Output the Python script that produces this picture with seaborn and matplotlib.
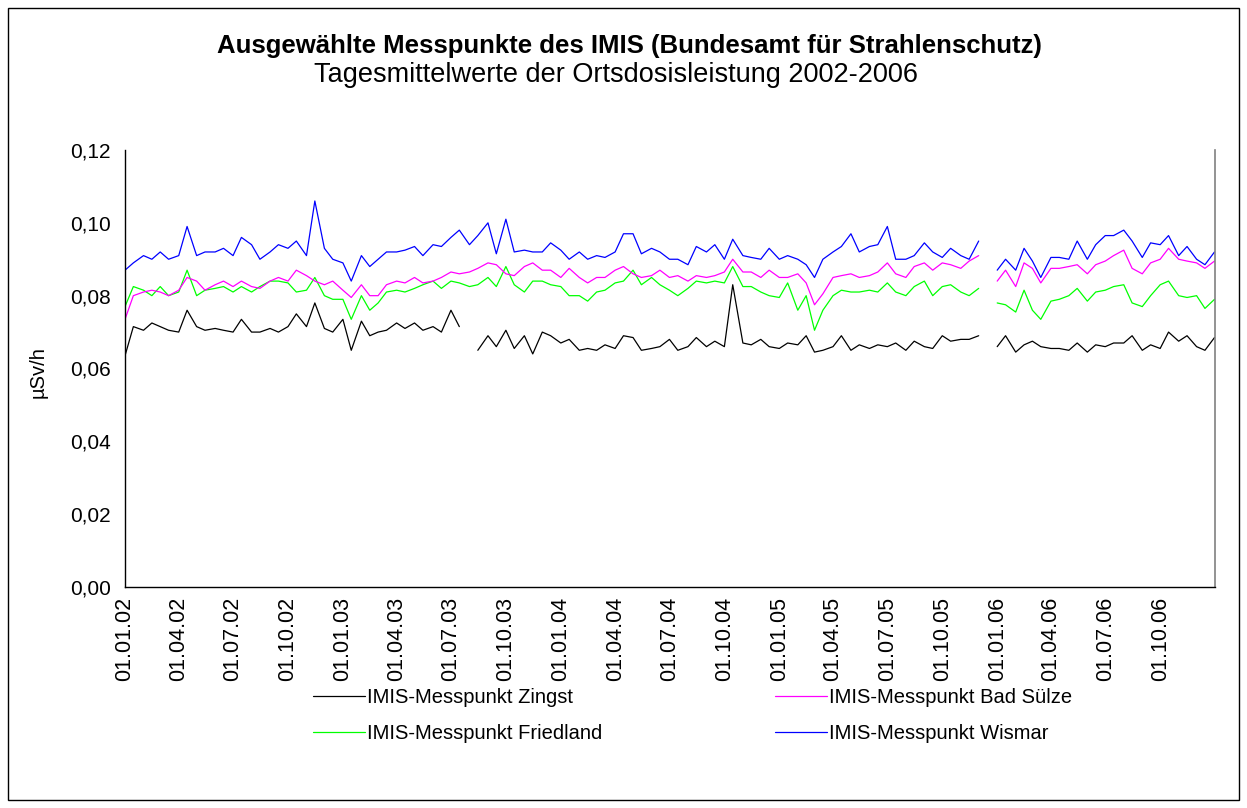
import numpy as np
import pandas as pd
import matplotlib
matplotlib.use("Agg")
import matplotlib.pyplot as plt
import matplotlib.dates as mdates
from matplotlib.patches import Rectangle
from matplotlib.ticker import MultipleLocator, FuncFormatter
import seaborn as sns

# Stichtage: 1. und 15. jedes Monats, plus Jahresende 2006
datum = list(pd.date_range("2002-01-01", "2006-12-15", freq="SMS")) + [pd.Timestamp("2006-12-31")]

nan = np.nan

zingst = [
    0.0635, 0.0715, 0.0705, 0.0725, 0.0715, 0.0705, 0.070, 0.076, 0.0715, 0.0705, 0.071, 0.0705,
    0.070, 0.0735, 0.070, 0.070, 0.071, 0.070, 0.0715, 0.075, 0.0715, 0.078, 0.071, 0.070,
    0.0735, 0.065, 0.073, 0.069, 0.070, 0.0705, 0.0725, 0.071, 0.0725, 0.0705, 0.0715, 0.070,
    0.076, 0.0715, nan, 0.065, 0.069, 0.066, 0.0705, 0.0655, 0.069, 0.064, 0.070, 0.069,
    0.067, 0.068, 0.065, 0.0655, 0.065, 0.0665, 0.0655, 0.069, 0.0685, 0.065, 0.0655, 0.066,
    0.068, 0.065, 0.066, 0.0685, 0.066, 0.0675, 0.066, 0.083, 0.067, 0.0665, 0.068, 0.066,
    0.0655, 0.067, 0.0665, 0.069, 0.0645, 0.065, 0.066, 0.069, 0.065, 0.0665, 0.0655, 0.0665,
    0.066, 0.067, 0.065, 0.0675, 0.066, 0.0655, 0.069, 0.0675, 0.068, 0.068, 0.069, nan,
    0.066, 0.069, 0.0645, 0.0665, 0.0675, 0.066, 0.0655, 0.0655, 0.065, 0.067, 0.0645, 0.0665,
    0.066, 0.067, 0.067, 0.069, 0.065, 0.0665, 0.0655, 0.070, 0.0675, 0.069, 0.066, 0.065,
    0.0685,
]

bad_suelze = [
    0.0735, 0.080, 0.081, 0.0815, 0.081, 0.080, 0.0815, 0.085, 0.084, 0.0815, 0.083, 0.084,
    0.0825, 0.084, 0.0825, 0.082, 0.084, 0.085, 0.084, 0.087, 0.0855, 0.084, 0.083, 0.084,
    0.0815, 0.0795, 0.083, 0.080, 0.080, 0.083, 0.084, 0.0835, 0.085, 0.0835, 0.084, 0.085,
    0.0865, 0.086, 0.0865, 0.0875, 0.089, 0.0885, 0.086, 0.0855, 0.088, 0.089, 0.087, 0.087,
    0.085, 0.0875, 0.085, 0.0835, 0.085, 0.085, 0.087, 0.088, 0.086, 0.085, 0.0855, 0.087,
    0.085, 0.0855, 0.084, 0.0855, 0.085, 0.0855, 0.0865, 0.090, 0.0865, 0.0865, 0.085, 0.087,
    0.085, 0.085, 0.086, 0.0835, 0.0775, 0.0805, 0.085, 0.0855, 0.086, 0.085, 0.0855, 0.0865,
    0.089, 0.086, 0.085, 0.088, 0.089, 0.087, 0.089, 0.0885, 0.0875, 0.0895, 0.091, nan,
    0.084, 0.087, 0.0825, 0.089, 0.0875, 0.0835, 0.0875, 0.0875, 0.088, 0.0885, 0.086, 0.0885,
    0.0895, 0.091, 0.0925, 0.0875, 0.086, 0.089, 0.090, 0.093, 0.090, 0.0895, 0.089, 0.0875,
    0.0895,
]

friedland = [
    0.077, 0.0825, 0.0815, 0.080, 0.0825, 0.080, 0.081, 0.087, 0.080, 0.0815, 0.082, 0.0825,
    0.081, 0.0825, 0.081, 0.0825, 0.084, 0.084, 0.0835, 0.081, 0.0815, 0.085, 0.080, 0.079,
    0.079, 0.0735, 0.080, 0.076, 0.078, 0.081, 0.0815, 0.081, 0.082, 0.083, 0.084, 0.082,
    0.084, 0.0835, 0.0825, 0.083, 0.085, 0.0825, 0.088, 0.083, 0.081, 0.084, 0.084, 0.083,
    0.0825, 0.080, 0.080, 0.0785, 0.081, 0.0815, 0.0835, 0.084, 0.087, 0.083, 0.085, 0.083,
    0.0815, 0.080, 0.082, 0.084, 0.0835, 0.084, 0.0835, 0.088, 0.0825, 0.0825, 0.081, 0.080,
    0.0795, 0.0835, 0.076, 0.080, 0.0705, 0.076, 0.080, 0.0815, 0.081, 0.081, 0.0815, 0.081,
    0.0835, 0.081, 0.080, 0.0825, 0.084, 0.080, 0.0825, 0.083, 0.081, 0.080, 0.082, nan,
    0.078, 0.0775, 0.0755, 0.0815, 0.076, 0.0735, 0.0785, 0.079, 0.080, 0.082, 0.0785, 0.081,
    0.0815, 0.0825, 0.083, 0.078, 0.077, 0.080, 0.083, 0.084, 0.080, 0.0795, 0.080, 0.0765,
    0.079,
]

wismar = [
    0.087, 0.089, 0.091, 0.090, 0.092, 0.090, 0.091, 0.099, 0.091, 0.092, 0.092, 0.093,
    0.091, 0.096, 0.094, 0.090, 0.092, 0.094, 0.093, 0.095, 0.091, 0.106, 0.093, 0.090,
    0.089, 0.084, 0.091, 0.088, 0.090, 0.092, 0.092, 0.0925, 0.0935, 0.091, 0.094, 0.0935,
    0.096, 0.098, 0.094, 0.0965, 0.100, 0.0915, 0.101, 0.092, 0.0925, 0.092, 0.092, 0.0945,
    0.0925, 0.090, 0.092, 0.090, 0.091, 0.0905, 0.092, 0.097, 0.097, 0.0915, 0.093, 0.092,
    0.090, 0.090, 0.0885, 0.0935, 0.092, 0.094, 0.090, 0.0955, 0.091, 0.0905, 0.090, 0.093,
    0.090, 0.091, 0.090, 0.0885, 0.085, 0.090, 0.092, 0.0935, 0.097, 0.092, 0.0935, 0.094,
    0.099, 0.090, 0.090, 0.091, 0.0945, 0.092, 0.0905, 0.093, 0.091, 0.090, 0.095, nan,
    0.087, 0.090, 0.087, 0.093, 0.0895, 0.085, 0.0905, 0.0905, 0.090, 0.095, 0.090, 0.094,
    0.0965, 0.0965, 0.098, 0.095, 0.0905, 0.0945, 0.094, 0.0965, 0.091, 0.0935, 0.090, 0.0885,
    0.092,
]

namen = ["IMIS-Messpunkt Zingst", "IMIS-Messpunkt Friedland",
         "IMIS-Messpunkt Bad Sülze", "IMIS-Messpunkt Wismar"]
farben = ["#000000", "#00FF00", "#FF00FF", "#0000FF"]

df = pd.concat([
    pd.DataFrame({"Datum": datum, "Wert": werte, "Messpunkt": name})
    for name, werte in zip(namen, [zingst, friedland, bad_suelze, wismar])
])
# Lücken in den Messreihen als eigene Abschnitte zeichnen
df["Abschnitt"] = df.groupby("Messpunkt")["Wert"].transform(lambda s: s.isna().cumsum())
df = df.dropna()

sns.set_style("white")
plt.rcParams["font.family"] = ["Liberation Sans", "DejaVu Sans"]
plt.rcParams["text.color"] = "black"
plt.rcParams["xtick.color"] = "black"
plt.rcParams["ytick.color"] = "black"

fig = plt.figure(figsize=(12.47, 8.08), dpi=100)
ax = fig.add_axes([125 / 1247, 1 - 587 / 808, 1090 / 1247, 437 / 808])

sns.lineplot(data=df, x="Datum", y="Wert", hue="Messpunkt", hue_order=namen,
             units="Abschnitt", estimator=None, palette=farben, lw=0.9, ax=ax)

ax.set_xlim(pd.Timestamp("2002-01-01"), pd.Timestamp("2006-12-31 20:00"))
ax.set_ylim(0, 0.12)
ax.xaxis.set_major_locator(mdates.MonthLocator(bymonth=[1, 4, 7, 10]))
ax.xaxis.set_minor_locator(mdates.MonthLocator())
ax.xaxis.set_major_formatter(mdates.DateFormatter("%d.%m.%y"))
ax.yaxis.set_major_locator(MultipleLocator(0.02))
ax.yaxis.set_minor_locator(MultipleLocator(0.01))
ax.yaxis.set_major_formatter(FuncFormatter(lambda v, p: f"{v:.2f}".replace(".", ",")))
ax.tick_params(axis="x", which="major", direction="out", length=6, width=0.8, labelsize=15.5,
               rotation=90, pad=1)
ax.tick_params(axis="x", which="minor", direction="out", length=3, width=0.8)
ax.tick_params(axis="y", which="both", direction="out", length=5, width=0.8, labelsize=15, pad=5)
ax.set_xlabel("")
ax.set_ylabel("")

for s in ["left", "bottom"]:
    ax.spines[s].set_color("black")
    ax.spines[s].set_linewidth(1)
ax.spines["top"].set_visible(False)
ax.spines["right"].set_color("#808080")
ax.spines["right"].set_linewidth(1.2)

sns.move_legend(ax, "upper left", bbox_to_anchor=(313 / 1247, 1 - 688 / 808),
                bbox_transform=fig.transFigure, ncol=2, title=None, frameon=False,
                fontsize=14.5, handlelength=2.6, borderpad=0, borderaxespad=0,
                columnspacing=8.55, labelspacing=0.85, handletextpad=0.1)

fig.text(0.505, 1 - 46 / 808, "Ausgewählte Messpunkte des IMIS (Bundesamt für Strahlenschutz)",
         ha="center", va="center", fontsize=18.5, fontweight="bold")
fig.text(0.494, 1 - 75 / 808, "Tagesmittelwerte der Ortsdosisleistung 2002-2006",
         ha="center", va="center", fontsize=19.5)
fig.text(38 / 1247, 1 - 372 / 808, "µSv/h", rotation=90, ha="center", va="center", fontsize=14.5)

fig.patches.append(Rectangle((8 / 1247, 8 / 808), 1231 / 1247, 792 / 808, transform=fig.transFigure,
                             fill=False, edgecolor="black", linewidth=1))

fig.savefig("out.png", dpi=100)
